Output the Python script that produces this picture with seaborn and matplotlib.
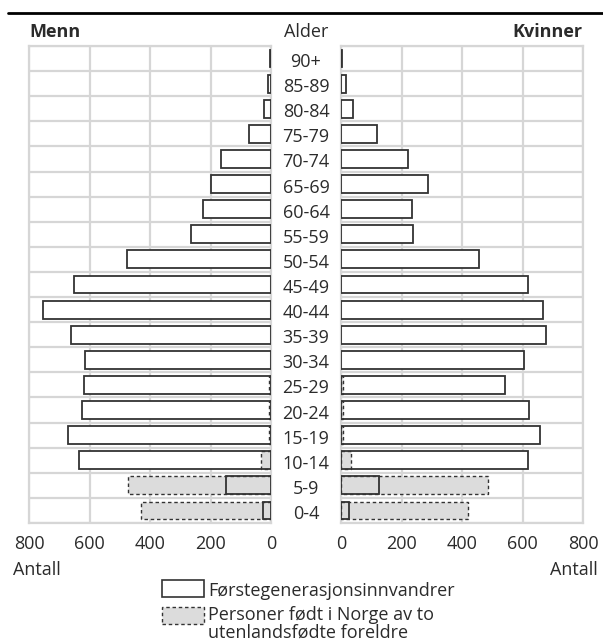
import matplotlib
matplotlib.use("Agg")
import matplotlib.pyplot as plt
from matplotlib.patches import Rectangle
from matplotlib.lines import Line2D
import seaborn as sns
import pandas as pd

# ---- data ----
ages = ["90+", "85-89", "80-84", "75-79", "70-74", "65-69", "60-64", "55-59",
        "50-54", "45-49", "40-44", "35-39", "30-34", "25-29", "20-24", "15-19",
        "10-14", "5-9", "0-4"]
menn_first = [4, 9, 22, 72, 165, 198, 224, 264, 476, 652, 755, 661, 614, 618,
              625, 671, 636, 148, 25]
menn_second = [0, 0, 0, 0, 0, 0, 0, 0, 0, 0, 0, 0, 0, 8, 5, 5, 32, 474, 429]
kvinner_first = [4, 16, 39, 119, 223, 287, 236, 239, 457, 618, 669, 678, 606,
                 541, 622, 658, 617, 127, 26]
kvinner_second = [0, 0, 0, 0, 0, 0, 0, 0, 0, 0, 0, 0, 0, 8, 5, 5, 33, 487, 421]
xticks = [0, 200, 400, 600, 800]
legend_labels = ["Førstegenerasjonsinnvandrer",
                 "Personer født i Norge av to\nutenlandsfødte foreldre"]

df = pd.DataFrame({"Alder": ages,
                   "Menn1": menn_first, "Menn2": menn_second,
                   "Kvinner1": kvinner_first, "Kvinner2": kvinner_second})

sns.set_theme(style="white")
plt.rcParams["font.family"] = ["Open Sans", "DejaVu Sans"]

W, H = 603, 643
fig = plt.figure(figsize=(W / 100, H / 100), dpi=100)

def fx(px):
    return px / W

def fy(py):
    return 1 - py / H

FS = 13
TXT = "#2b2b2b"
top, bottom = 46, 523
axL = fig.add_axes([fx(29), fy(bottom), fx(242), (bottom - top) / H])
axR = fig.add_axes([fx(341), fy(bottom), fx(242), (bottom - top) / H])

GRID = "#d6d6d6"
EDGE = "#333333"
GREY = "#dcdcdc"
BW = 0.71

def draw(ax, c1, c2):
    n0 = len(ax.patches)
    sns.barplot(data=df, y="Alder", x=c1, order=ages, orient="h", ax=ax,
                color="white", width=BW, saturation=1)
    for p in ax.patches[n0:]:
        p.set_facecolor("white"); p.set_edgecolor("none"); p.set_zorder(2)
    n1 = len(ax.patches)
    sns.barplot(data=df, y="Alder", x=c2, order=ages, orient="h", ax=ax,
                color=GREY, width=BW, saturation=1)
    for p in ax.patches[n1:]:
        p.set_facecolor(GREY); p.set_edgecolor(EDGE); p.set_linestyle((0, (2.5, 2)))
        p.set_linewidth(1.0); p.set_zorder(3)
        if p.get_width() == 0:
            p.set_visible(False)
    n2 = len(ax.patches)
    sns.barplot(data=df, y="Alder", x=c1, order=ages, orient="h", ax=ax,
                color="white", width=BW, saturation=1)
    for p in ax.patches[n2:]:
        p.set_facecolor("none"); p.set_edgecolor(EDGE); p.set_linewidth(1.3)
        p.set_zorder(4)
    ax.set_xlim(0, 800)
    ax.set_ylim(len(ages) - 0.5, -0.5)
    ax.set_xticks(xticks)
    ax.set_xticklabels([str(t) for t in xticks], fontsize=FS, color=TXT)
    ax.set_yticks([i - 0.5 for i in range(len(ages) + 1)])
    ax.set_yticklabels([])
    ax.tick_params(axis="both", length=0)
    ax.tick_params(axis="x", pad=8.5)
    ax.grid(True, color=GRID, linewidth=1.6, zorder=0)
    ax.set_axisbelow(True)
    for s in ax.spines.values():
        s.set_color(GRID); s.set_linewidth(1.6); s.set_visible(True)
    ax.set_xlabel(""); ax.set_ylabel("")

draw(axL, "Menn1", "Menn2")
draw(axR, "Kvinner1", "Kvinner2")
axL.invert_xaxis()

# age labels between panels
pitch = (bottom - top) / len(ages)
for i, a in enumerate(ages):
    yc = top + (i + 0.5) * pitch + 8.5
    fig.text(fx(306), fy(yc), a, ha="center", va="baseline",
             fontsize=FS, color=TXT)

# headers
fig.text(fx(29), fy(37), "Menn", ha="left", va="baseline", fontsize=FS,
         fontweight="bold", color=TXT)
fig.text(fx(306), fy(37), "Alder", ha="center", va="baseline", fontsize=FS,
         color=TXT)
fig.text(fx(582), fy(37), "Kvinner", ha="right", va="baseline", fontsize=FS,
         fontweight="bold", color=TXT)
fig.add_artist(Line2D([fx(8), fx(603)], [fy(13), fy(13)], color="black",
                      linewidth=2.0, transform=fig.transFigure))

# axis titles
fig.text(fx(13), fy(575), "Antall", ha="left", va="baseline", fontsize=FS,
         color=TXT)
fig.text(fx(598), fy(575), "Antall", ha="right", va="baseline", fontsize=FS,
         color=TXT)

# legend
fig.add_artist(Rectangle((fx(162), fy(597)), fx(42), 17 / H, facecolor="white",
                         edgecolor=EDGE, linewidth=1.2, transform=fig.transFigure))
fig.add_artist(Rectangle((fx(162), fy(624)), fx(42), 17 / H, facecolor=GREY,
                         edgecolor=EDGE, linewidth=1.0, linestyle=(0, (2.5, 2)),
                         transform=fig.transFigure))
fig.text(fx(208), fy(596), legend_labels[0], ha="left", va="baseline",
         fontsize=FS, color=TXT)
for k, line in enumerate(legend_labels[1].split("\n")):
    fig.text(fx(208), fy(620 + 18 * k), line, ha="left", va="baseline",
             fontsize=FS, color=TXT)

fig.savefig("out.png", dpi=100)
